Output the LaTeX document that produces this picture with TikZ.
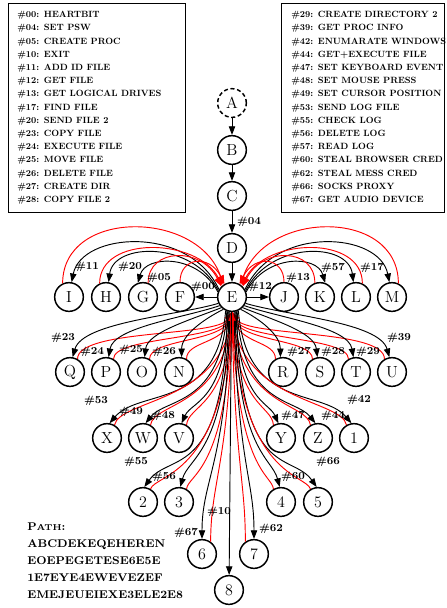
\documentclass[tikz,border=0pt]{standalone}
\usepackage{fontspec}
\newfontfamily\tabfont{lmroman10-bold}[Extension=.otf]
\usetikzlibrary{arrows.meta}

\tikzset{
  st/.style={circle, draw, line width=1.1pt, minimum size=21.5pt, inner sep=0pt, font=\fontsize{12}{14}\selectfont},
  fwd/.style={-{Triangle[length=6.5pt,width=4.8pt]}, line width=0.7pt},
  ret/.style={fwd, red},
  lbl/.style={font=\fontsize{8}{9}\selectfont\bfseries, inner sep=0pt},
  legend/.style={align=left, inner sep=0pt, font=\tabfont\fontsize{6.8}{9.9}\selectfont},
}

\begin{document}
\begin{tikzpicture}[x=0.75pt,y=-0.75pt]
\useasboundingbox (0,0) rectangle (447,608);

% command tables
\draw[line width=0.6pt] (8,3) rectangle (185,212);
\draw[line width=0.6pt] (281,3) rectangle (444,212);
\node[legend, anchor=north west] (codesA) at (17,11) {\#00: HEARTBIT\\\#04: SET PSW\\\#05: CREATE PROC\\\#10: EXIT\\\#11: ADD ID FILE\\\#12: GET FILE\\\#13: GET LOGICAL DRIVES\\\#17: FIND FILE\\\#20: SEND FILE 2\\\#23: COPY FILE\\\#24: EXECUTE FILE\\\#25: MOVE FILE\\\#26: DELETE FILE\\\#27: CREATE DIR\\\#28: COPY FILE 2};
\node[legend, anchor=north west] (codesB) at (291,11) {\#29: CREATE DIRECTORY 2\\\#39: GET PROC INFO\\\#42: ENUMARATE WINDOWS\\\#44: GET+EXECUTE FILE\\\#47: SET KEYBOARD EVENT\\\#48: SET MOUSE PRESS\\\#49: SET CURSOR POSITION\\\#53: SEND LOG FILE\\\#55: CHECK LOG\\\#56: DELETE LOG\\\#57: READ LOG\\\#60: STEAL BROWSER CRED\\\#62: STEAL MESS CRED\\\#66: SOCKS PROXY\\\#67: GET AUDIO DEVICE};

\node[anchor=north west, align=left, inner sep=0pt, font=\fontsize{8.4}{12.75}\selectfont\bfseries] (path) at (27,523) {P{\fontsize{6.4}{7}\selectfont ATH}:\\ABCDEKEQEHEREN\\EOEPEGETESE6E5E\\1E7EYE4EWEVEZEF\\EMEJEUEIEXE3ELE2E8};

% states
\node[st, dash pattern=on 3pt off 2pt] (A) at (232,103) {A};
\node[st] (B) at (232,150) {B};
\node[st] (C) at (232,196) {C};
\node[st] (D) at (232,248) {D};
\node[st] (E) at (232,297) {E};

\node[st] (I) at (69,297) {I};
\node[st] (H) at (106,297) {H};
\node[st] (G) at (143,297) {G};
\node[st] (F) at (180,297) {F};
\node[st] (J) at (284,297) {J};
\node[st] (K) at (320,297) {K};
\node[st] (L) at (356,297) {L};
\node[st] (M) at (392,297) {M};

\node[st] (Q) at (70,372) {Q};
\node[st] (P) at (106,372) {P};
\node[st] (O) at (142,372) {O};
\node[st] (N) at (179,372) {N};
\node[st] (R) at (283,372) {R};
\node[st] (S) at (320,372) {S};
\node[st] (T) at (356,372) {T};
\node[st] (U) at (392,372) {U};

\node[st] (X) at (107,438) {X};
\node[st] (W) at (143,438) {W};
\node[st] (V) at (179,438) {V};
\node[st] (Y) at (281,438) {Y};
\node[st] (Z) at (318,438) {Z};
\node[st] (n1) at (354,438) {1};

\node[st] (n2) at (143,502) {2};
\node[st] (n3) at (179,502) {3};
\node[st] (n4) at (281,502) {4};
\node[st] (n5) at (318,502) {5};

\node[st] (n6) at (202,554) {6};
\node[st] (n7) at (254,554) {7};
\node[st] (n8) at (229,590) {8};

% chain
\draw[fwd] (A) -- (B);
\draw[fwd] (B) -- (C);
\draw[fwd] (C) -- (D);
\draw[fwd] (D) -- (E);

% first row
\draw[fwd] (E.150) .. controls +(-30,-65) and +(10,-50) .. (I.80);
\draw[ret] (I.115) .. controls +(0,-75) and +(-25,-75) .. (E.125);
\draw[fwd] (E.155) .. controls +(-25,-50) and +(5,-40) .. (H.80);
\draw[ret] (H.115) .. controls +(0,-48) and +(-25,-48) .. (E.130);
\draw[fwd] (E.160) .. controls +(-20,-38) and +(8,-28) .. (G.110);
\draw[ret] (G.70) .. controls +(0,-35) and +(-20,-40) .. (E.135);
\draw[fwd] (E) -- (F);
\draw[ret] (F.north) .. controls +(0,-25) and +(-15,-30) .. (E.120);

\draw[fwd] (E.30) .. controls +(30,-65) and +(-10,-50) .. (M.100);
\draw[ret] (M.65) .. controls +(0,-75) and +(25,-75) .. (E.55);
\draw[fwd] (E.25) .. controls +(25,-50) and +(-5,-40) .. (L.100);
\draw[ret] (L.65) .. controls +(0,-48) and +(25,-48) .. (E.50);
\draw[fwd] (E.20) .. controls +(20,-38) and +(-8,-28) .. (K.70);
\draw[ret] (K.110) .. controls +(0,-35) and +(20,-40) .. (E.45);
\draw[fwd] (E) -- (J);
\draw[ret] (J.north) .. controls +(0,-25) and +(15,-30) .. (E.60);

% second row
\draw[fwd] (E.205) .. controls +(-40,12) and +(10,-35) .. (Q.80);
\draw[ret] (Q.60) .. controls +(0,-30) and +(-15,25) .. (E.south);
\draw[fwd] (E.215) .. controls +(-35,12) and +(5,-30) .. (P.80);
\draw[ret] (P.60) .. controls +(0,-22) and +(-12,28) .. (E.south);
\draw[fwd] (E.225) .. controls +(-30,12) and +(3,-25) .. (O.80);
\draw[ret] (O.60) .. controls +(0,-20) and +(-10,30) .. (E.south);
\draw[fwd] (E.235) .. controls +(-20,10) and +(0,-22) .. (N.80);
\draw[ret] (N.60) .. controls +(0,-18) and +(-8,32) .. (E.south);

\draw[fwd] (E.335) .. controls +(40,12) and +(-10,-35) .. (U.100);
\draw[ret] (U.120) .. controls +(0,-30) and +(15,25) .. (E.south);
\draw[fwd] (E.325) .. controls +(35,12) and +(-5,-30) .. (T.100);
\draw[ret] (T.120) .. controls +(0,-22) and +(12,28) .. (E.south);
\draw[fwd] (E.315) .. controls +(30,12) and +(-3,-25) .. (S.100);
\draw[ret] (S.120) .. controls +(0,-20) and +(10,30) .. (E.south);
\draw[fwd] (E.305) .. controls +(20,10) and +(0,-22) .. (R.100);
\draw[ret] (R.120) .. controls +(0,-18) and +(8,32) .. (E.south);

% third row
\draw[fwd] (E.245) .. controls +(-8,100) and +(30,-35) .. (X.80);
\draw[ret] (X.60) .. controls +(5,-25) and +(-12,90) .. (E.south);
\draw[fwd] (E.250) .. controls +(-5,95) and +(20,-25) .. (W.80);
\draw[ret] (W.60) .. controls +(3,-22) and +(-10,95) .. (E.south);
\draw[fwd] (E.255) .. controls +(-3,90) and +(10,-22) .. (V.80);
\draw[ret] (V.60) .. controls +(2,-20) and +(-6,95) .. (E.south);

\draw[fwd] (E.295) .. controls +(8,100) and +(-30,-35) .. (n1.100);
\draw[ret] (n1.120) .. controls +(-5,-25) and +(12,90) .. (E.south);
\draw[fwd] (E.290) .. controls +(5,95) and +(-20,-25) .. (Z.100);
\draw[ret] (Z.120) .. controls +(-3,-22) and +(10,95) .. (E.south);
\draw[fwd] (E.285) .. controls +(3,90) and +(-10,-22) .. (Y.100);
\draw[ret] (Y.120) .. controls +(-2,-20) and +(6,95) .. (E.south);

% fourth row
\draw[fwd] (E.252) .. controls +(-3,170) and +(25,-35) .. (n2.85);
\draw[ret] (n2.60) .. controls +(5,-15) and +(-10,165) .. (E.south);
\draw[fwd] (E.258) .. controls +(-2,140) and +(8,-30) .. (n3.85);
\draw[ret] (n3.60) .. controls +(2,-15) and +(-6,160) .. (E.south);
\draw[fwd] (E.288) .. controls +(3,170) and +(-25,-35) .. (n5.95);
\draw[ret] (n5.120) .. controls +(-5,-15) and +(10,165) .. (E.south);
\draw[fwd] (E.282) .. controls +(2,140) and +(-8,-30) .. (n4.95);
\draw[ret] (n4.120) .. controls +(-2,-15) and +(6,160) .. (E.south);

% last row
\draw[fwd] (E.262) .. controls +(-3,150) and +(0,-60) .. (n6.north);
\draw[ret] (n6.55) .. controls +(0,-60) and +(-3,150) .. (E.south);
\draw[fwd] (E.278) .. controls +(3,150) and +(0,-60) .. (n7.north);
\draw[ret] (n7.125) .. controls +(0,-60) and +(3,150) .. (E.south);
\draw[fwd] (E.268) -- (n8);

% edge labels
\node[lbl] (l04) at (249,222) {\#04};
\node[lbl] (l00) at (203,287) {\#00};
\node[lbl] (l12) at (260,287) {\#12};
\node[lbl] (l11) at (87,267) {\#11};
\node[lbl] (l20) at (130,267) {\#20};
\node[lbl] (l05) at (159,278) {\#05};
\node[lbl] (l13) at (298,278) {\#13};
\node[lbl] (l57) at (333,268) {\#57};
\node[lbl] (l17) at (372,268) {\#17};
\node[lbl] (l23) at (63,338) {\#23};
\node[lbl] (l24) at (92,352) {\#24};
\node[lbl] (l25) at (131,350) {\#25};
\node[lbl] (l26) at (164,352) {\#26};
\node[lbl] (l27) at (299,352) {\#27};
\node[lbl] (l28) at (333,352) {\#28};
\node[lbl] (l29) at (368,352) {\#29};
\node[lbl] (l39) at (399,338) {\#39};
\node[lbl] (l53) at (96,401) {\#53};
\node[lbl] (l49) at (131,412) {\#49};
\node[lbl] (l48) at (163,416) {\#48};
\node[lbl] (l47) at (293,416) {\#47};
\node[lbl] (l44) at (333,416) {\#44};
\node[lbl] (l42) at (359,400) {\#42};
\node[lbl] (l55) at (136,462) {\#55};
\node[lbl] (l56) at (164,477) {\#56};
\node[lbl] (l60) at (293,477) {\#60};
\node[lbl] (l66) at (328,462) {\#66};
\node[lbl] (l67) at (186,533) {\#67};
\node[lbl] (l10) at (219,512) {\#10};
\node[lbl] (l62) at (271,529) {\#62};
\end{tikzpicture}
\end{document}
